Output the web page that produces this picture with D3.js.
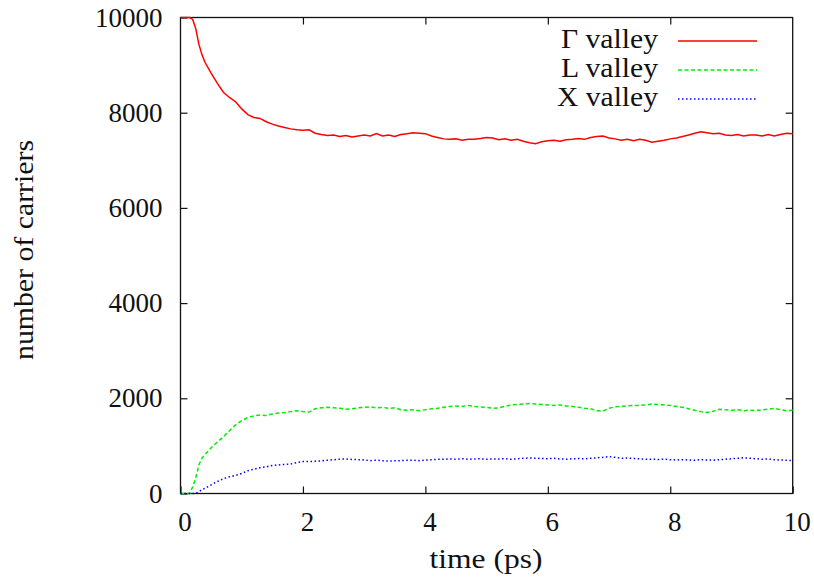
<!DOCTYPE html>
<html>
<head>
<meta charset="utf-8">
<script src="https://cdn.jsdelivr.net/npm/d3@7"></script>
<style>
  body { margin: 0; background: #fff; }
  svg text { font-family: "Liberation Serif", serif; fill: #111; }
</style>
</head>
<body>
<div id="main-frame"></div>
<script>
// time axis (ps)
const times = [0, 0.05, 0.1, 0.15, 0.2, 0.25, 0.3, 0.35, 0.4,
  0.5, 0.6, 0.7, 0.8, 0.9, 1.0, 1.1, 1.2, 1.3, 1.4, 1.5, 1.6, 1.7, 1.8, 1.9,
  2.0, 2.1, 2.2, 2.3, 2.4, 2.5, 2.6, 2.7, 2.8, 2.9, 3.0, 3.1, 3.2, 3.3, 3.4,
  3.5, 3.6, 3.7, 3.8, 3.9, 4.0, 4.1, 4.2, 4.3, 4.4, 4.5, 4.6, 4.7, 4.8, 4.9,
  5.0, 5.1, 5.2, 5.3, 5.4, 5.5, 5.6, 5.7, 5.8, 5.9, 6.0, 6.1, 6.2, 6.3, 6.4,
  6.5, 6.6, 6.7, 6.8, 6.9, 7.0, 7.1, 7.2, 7.3, 7.4, 7.5, 7.6, 7.7, 7.8, 7.9,
  8.0, 8.1, 8.2, 8.3, 8.4, 8.5, 8.6, 8.7, 8.8, 8.9, 9.0, 9.1, 9.2, 9.3, 9.4,
  9.5, 9.6, 9.7, 9.8, 9.9, 10.0];

const gammaValley = [10000, 10000, 10000, 10000, 9960, 9760, 9440, 9220, 9060,
  8830, 8620, 8430, 8320, 8230, 8080, 7960, 7900, 7880, 7810, 7760, 7720, 7690, 7660, 7640,
  7630, 7640, 7570, 7540, 7520, 7530, 7500, 7520, 7490, 7510, 7530, 7510, 7560, 7510, 7530,
  7500, 7540, 7560, 7580, 7570, 7560, 7510, 7480, 7450, 7440, 7450, 7420, 7440, 7440, 7460,
  7480, 7470, 7430, 7450, 7420, 7440, 7400, 7370, 7350, 7390, 7410, 7420, 7400, 7430, 7440,
  7460, 7440, 7480, 7500, 7510, 7470, 7450, 7420, 7440, 7410, 7440, 7420, 7380, 7400, 7420,
  7450, 7470, 7500, 7530, 7570, 7600, 7580, 7560, 7570, 7530, 7520, 7540, 7510, 7530, 7530,
  7510, 7540, 7510, 7540, 7570, 7560];

const lValley = [0, 0, 0, 0, 140, 330, 600, 740, 820,
  960, 1080, 1190, 1320, 1440, 1530, 1600, 1630, 1650, 1640, 1670, 1690, 1700, 1720, 1740,
  1720, 1710, 1780, 1800, 1810, 1800, 1790, 1770, 1780, 1800, 1810, 1820, 1800, 1810, 1790,
  1800, 1760, 1750, 1760, 1740, 1760, 1780, 1790, 1810, 1830, 1840, 1830, 1850, 1830, 1820,
  1810, 1790, 1800, 1830, 1860, 1870, 1880, 1890, 1880, 1870, 1860, 1850, 1860, 1840, 1830,
  1810, 1790, 1780, 1740, 1730, 1790, 1820, 1830, 1840, 1850, 1850, 1860, 1880, 1870, 1860,
  1850, 1830, 1810, 1780, 1750, 1720, 1700, 1730, 1770, 1760, 1750, 1760, 1740, 1750, 1740,
  1760, 1770, 1790, 1760, 1740, 1750];

const xValley = [0, 0, 0, 0, 0, 0, 40, 80, 110,
  180, 250, 310, 350, 380, 420, 480, 510, 540, 560, 590, 600, 610, 620, 650,
  670, 670, 680, 685, 700, 710, 720, 725, 715, 710, 705, 690, 700, 690, 680,
  690, 690, 700, 700, 690, 700, 710, 720, 720, 725, 720, 730, 720, 725, 730,
  720, 725, 725, 730, 720, 730, 740, 745, 740, 735, 730, 740, 725, 720, 730,
  735, 730, 740, 750, 760, 775, 760, 740, 745, 735, 730, 720, 720, 715, 720,
  710, 705, 710, 705, 700, 710, 705, 700, 710, 720, 730, 740, 750, 740, 730,
  720, 725, 710, 705, 700, 690];

const seriesNames = ["\u0393 valley", "L valley", "X valley"];
const seriesColors = ["#ff0000", "#00ee00", "#0000ff"];
const seriesDash = [null, "4,2.5", "1.5,2.5"];
const xTicks = [0, 2, 4, 6, 8, 10];
const yTicks = [0, 2000, 4000, 6000, 8000, 10000];

const margin = { top: 17.5, right: 21.3, bottom: 92.5, left: 180.5 };
const width = 814 - margin.left - margin.right;
const height = 586 - margin.top - margin.bottom;
const font = '"Liberation Serif", serif';

const svg = d3
  .select("#main-frame")
  .append("svg")
  .attr("width", 814)
  .attr("height", 586)
  .append("g")
  .attr("transform", `translate(${margin.left}, ${margin.top})`);

const xScale = d3.scaleLinear().domain([0, 10]).range([0, width]);
const yScale = d3.scaleLinear().domain([0, 10000]).range([height, 0]);

// inward ticks on all four sides (gnuplot style)
const tickLen = 7;
const xAxisG = svg.append("g")
  .attr("transform", `translate(0, ${height})`)
  .call(d3.axisBottom(xScale).tickValues(xTicks).tickSize(-tickLen).tickPadding(18).tickFormat(d3.format("d")));
xAxisG.selectAll(".tick text").attr("dx", 4);
svg.append("g")
  .call(d3.axisTop(xScale).tickValues(xTicks.slice(1, -1)).tickSize(-tickLen).tickFormat(""));
svg.append("g")
  .call(d3.axisLeft(yScale).tickValues(yTicks).tickSize(-tickLen).tickPadding(18).tickFormat(d3.format("d")));
svg.append("g")
  .attr("transform", `translate(${width}, 0)`)
  .call(d3.axisRight(yScale).tickValues(yTicks.slice(1, -1)).tickSize(-tickLen).tickFormat(""));

svg.selectAll(".domain").remove();
svg.selectAll(".tick line").attr("stroke", "#111").attr("stroke-width", 1.2);
svg.selectAll(".tick text")
  .style("font-size", "27px")
  .style("font-family", font)
  .attr("fill", "#111");

// frame
svg.append("rect")
  .attr("x", 0).attr("y", 0)
  .attr("width", width).attr("height", height)
  .attr("fill", "none")
  .attr("stroke", "#111")
  .attr("stroke-width", 1.3);

const line = d3.line()
  .x((d, i) => xScale(times[i]))
  .y((d) => yScale(d));

[gammaValley, lValley, xValley].forEach((vals, k) => {
  svg.append("path")
    .datum(vals)
    .attr("d", line)
    .attr("fill", "none")
    .attr("stroke", seriesColors[k])
    .attr("stroke-width", 1.5)
    .attr("stroke-dasharray", seriesDash[k]);
});

// legend
const legend = svg.append("g").attr("transform", `translate(${658 - margin.left}, ${48 - margin.top})`);
const textWidths = [97, 97, 101];
seriesNames.forEach((name, k) => {
  legend.append("text")
    .attr("x", 0)
    .attr("y", k * 29)
    .attr("text-anchor", "end")
    .attr("textLength", textWidths[k])
    .attr("lengthAdjust", "spacingAndGlyphs")
    .style("font-size", "27px")
    .style("font-family", font)
    .text(name);
  legend.append("line")
    .attr("x1", 20).attr("x2", 99)
    .attr("y1", k * 29 - 7).attr("y2", k * 29 - 7)
    .attr("stroke", seriesColors[k])
    .attr("stroke-width", 1.4)
    .attr("stroke-dasharray", seriesDash[k]);
});

// axis titles
svg.append("text")
  .attr("x", 486 - margin.left)
  .attr("y", 568 - margin.top)
  .attr("text-anchor", "middle")
  .attr("textLength", 113)
  .attr("lengthAdjust", "spacingAndGlyphs")
  .style("font-size", "27px")
  .style("font-family", font)
  .text("time (ps)");

svg.append("text")
  .attr("transform", `translate(${33 - margin.left}, ${250 - margin.top}) rotate(-90)`)
  .attr("text-anchor", "middle")
  .attr("textLength", 220)
  .attr("lengthAdjust", "spacingAndGlyphs")
  .style("font-size", "27px")
  .style("font-family", font)
  .text("number of carriers");
</script>
</body>
</html>
